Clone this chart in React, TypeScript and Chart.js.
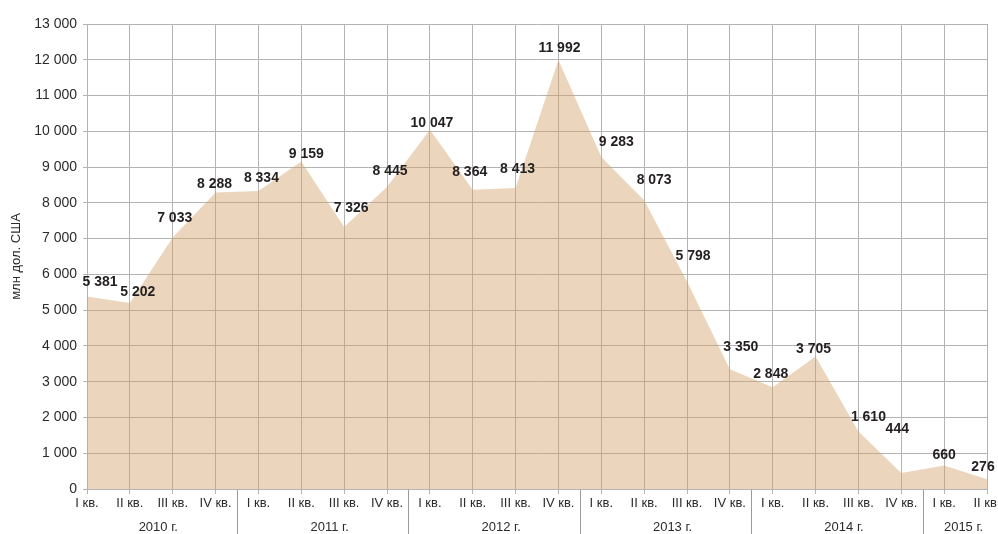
import React, { useEffect, useRef } from "react";
import { Chart, registerables } from "chart.js";

Chart.register(...registerables);

const quarterLabels = [
  "I кв.", "II кв.", "III кв.", "IV кв.",
  "I кв.", "II кв.", "III кв.", "IV кв.",
  "I кв.", "II кв.", "III кв.", "IV кв.",
  "I кв.", "II кв.", "III кв.", "IV кв.",
  "I кв.", "II кв.", "III кв.", "IV кв.",
  "I кв.", "II кв.",
];

const values = [
  5381, 5202, 7033, 8288,
  8334, 9159, 7326, 8445,
  10047, 8364, 8413, 11992,
  9283, 8073, 5798, 3350,
  2848, 3705, 1610, 444,
  660, 276,
];

const yearLabels = ["2010 г.", "2011 г.", "2012 г.", "2013 г.", "2014 г.", "2015 г."];
const yearCounts = [4, 4, 4, 4, 4, 2];

const yAxisTitle = "млн дол. США";

// label placement offsets (style only): [dx, dy] from the point
const labelOffsets: [number, number][] = [
  [13, -14], [8, -11], [2, -19], [-1, -8],
  [3, -13], [5, -7], [7, -19], [3, -16],
  [2, -6], [-3, -18], [2, -19], [1, -12],
  [15, -15], [10, -20], [6, -25], [11, -22],
  [-2, -13], [-2, -7], [10, -14], [-4, -44],
  [0, -10], [-4, -12],
];

const FONT = "'Liberation Sans', Arial, sans-serif";
const TEXT = "#2b2b2b";
const GRID = "#b3b3b3";

const fmt = (v: number) => String(v).replace(/\B(?=(\d{3})+(?!\d))/g, " ");

const overlayPlugin = {
  id: "overlay",
  afterDraw(chart: any) {
    const ctx = chart.ctx;
    const xs = chart.scales.x;
    const ys = chart.scales.y;
    const bottom = chart.chartArea.bottom;
    ctx.save();
    let idx = 0;
    ctx.strokeStyle = "#9a9a9a";
    ctx.lineWidth = 1;
    ctx.fillStyle = TEXT;
    ctx.font = `13px ${FONT}`;
    ctx.textAlign = "center";
    ctx.textBaseline = "middle";
    yearCounts.forEach((cnt, g) => {
      const first = xs.getPixelForValue(idx);
      const last = xs.getPixelForValue(idx + cnt - 1);
      const shift = g < yearCounts.length - 1 ? 7 : -2;
      const cx = (first + last) / 2 + shift;
      ctx.fillText(yearLabels[g], cx, bottom + 38);
      if (g < yearCounts.length - 1) {
        const next = xs.getPixelForValue(idx + cnt);
        const sx = Math.round((last + next) / 2) + 0.5;
        ctx.beginPath();
        ctx.moveTo(sx, bottom + 1);
        ctx.lineTo(sx, bottom + 45);
        ctx.stroke();
      }
      idx += cnt;
    });
    ctx.font = `bold 14px ${FONT}`;
    ctx.fillStyle = "#231f20";
    values.forEach((v, i) => {
      const px = xs.getPixelForValue(i);
      const py = ys.getPixelForValue(v);
      const [dx, dy] = labelOffsets[i];
      ctx.fillText(fmt(v), px + dx, py + dy);
    });
    ctx.restore();
  },
};

export default function App() {
  const ref = useRef<HTMLCanvasElement | null>(null);
  useEffect(() => {
    if (!ref.current) return;
    const chart = new Chart(ref.current, {
      type: "line",
      data: {
        labels: quarterLabels,
        datasets: [
          {
            data: values,
            fill: "origin",
            backgroundColor: "rgba(211,162,106,0.45)",
            borderWidth: 0,
            pointRadius: 0,
            tension: 0,
          },
        ],
      },
      options: {
        animation: false,
        responsive: false,
        devicePixelRatio: 1,
        layout: { padding: { top: 24, right: 11, bottom: 0, left: 0 } },
        plugins: { legend: { display: false }, tooltip: { enabled: false } },
        scales: {
          x: {
            offset: false,
            grid: { color: GRID, lineWidth: 1, tickLength: 5 },
            border: { color: GRID },
            ticks: {
              autoSkip: false,
              maxRotation: 0,
              minRotation: 0,
              padding: 2,
              color: TEXT,
              font: { family: FONT, size: 13 },
            },
            afterFit(s: any) {
              s.paddingLeft = 0;
              s.paddingRight = 0;
              s.height = 45;
            },
          },
          y: {
            min: 0,
            max: 13000,
            grid: { color: GRID, lineWidth: 1, tickLength: 4 },
            border: { color: GRID },
            ticks: {
              stepSize: 1000,
              padding: 6,
              color: TEXT,
              font: { family: FONT, size: 14 },
              callback: (v: any) => fmt(Number(v)),
            },
            title: {
              display: true,
              text: yAxisTitle,
              color: TEXT,
              font: { family: FONT, size: 13 },
              padding: { top: 9, bottom: 0 },
            },
            afterFit(s: any) {
              s.width = 87;
              s.paddingTop = 0;
              s.paddingBottom = 0;
            },
          },
        },
      },
      plugins: [overlayPlugin],
    } as any);
    return () => chart.destroy();
  }, []);
  return (
    <div style={{ position: "fixed", left: 0, top: 0, width: 998, height: 534, background: "#fff" }}>
      <canvas ref={ref} width={998} height={534} style={{ display: "block" }} />
    </div>
  );
}
